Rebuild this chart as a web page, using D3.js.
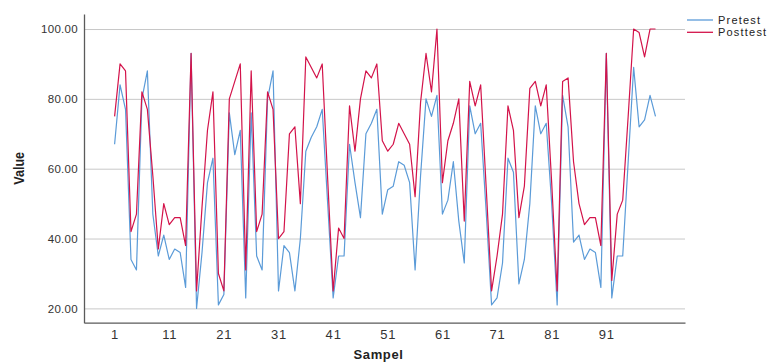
<!DOCTYPE html>
<html>
<head>
<meta charset="utf-8">
<script src="https://cdn.jsdelivr.net/npm/d3@7"></script>
<style>
  body { margin: 0; background: #fff; }
  svg { display: block; }
</style>
</head>
<body>
<svg id="chart" width="771" height="363"></svg>
<script>
// sample index 1..100
const samples = d3.range(1, 101);

const pretest = [
  67, 84, 77, 34, 31, 80, 88, 47, 35, 41,
  34, 37, 36, 26, 93, 20, 36, 56, 63, 21,
  24, 76, 64, 71, 23, 76, 35, 31, 80, 88,
  25, 38, 36, 25, 40, 65, 69, 72, 77, 50,
  23, 35, 35, 67, 56, 46, 70, 73, 77, 47,
  54, 55, 62, 61, 56, 31, 58, 80, 75, 81,
  47, 51, 62, 45, 33, 78, 70, 73, 48, 21,
  23, 33, 63, 59, 27, 34, 50, 78, 70, 73,
  50, 21, 81, 72, 39, 41, 34, 37, 36, 26,
  93, 23, 35, 35, 62, 89, 72, 74, 81, 75
];

const posttest = [
  75, 90, 88, 42, 47, 82, 77, 58, 37, 50,
  44, 46, 46, 38, 93, 25, 49, 71, 82, 30,
  25, 80, 85, 90, 31, 88, 42, 47, 82, 77,
  40, 42, 70, 72, 50, 92, 89, 86, 90, 57,
  25, 43, 40, 78, 65, 80, 88, 86, 90, 68,
  65, 67, 73, 70, 67, 52, 79, 93, 82, 100,
  56, 68, 73, 80, 45, 85, 78, 84, 55, 25,
  35, 47, 78, 71, 46, 55, 83, 85, 78, 84,
  56, 25, 85, 86, 62, 50, 44, 46, 46, 38,
  93, 28, 47, 51, 75, 100, 99, 92, 100, 100
];

const xTicks = [1, 11, 21, 31, 41, 51, 61, 71, 81, 91];
const yTicks = [20, 40, 60, 80, 100];

const seriesNames = ['Pretest', 'Posttest'];
const seriesColors = ['#5b9bd8', '#d3134a'];

const svg = d3.select('#chart');
const plotLeft = 84, plotRight = 685, plotTop = 14, plotBottom = 322.7;

const x = d3.scaleLinear().domain([-4.6, 105.4]).range([plotLeft, plotRight]);
const y = d3.scaleLinear().domain([15.9, 104.3]).range([plotBottom, plotTop]);

// grid
svg.append('g')
  .attr('transform', `translate(${plotLeft},0)`)
  .call(d3.axisLeft(y).tickValues(yTicks).tickSize(-(plotRight - plotLeft)).tickFormat(''))
  .call(g => g.select('.domain').remove())
  .call(g => g.selectAll('line').attr('stroke', '#c8c8c8').attr('stroke-width', 1));

// y axis
svg.append('g')
  .attr('transform', `translate(${plotLeft},0)`)
  .call(d3.axisLeft(y).tickValues(yTicks).tickSize(0).tickSizeOuter(0).tickPadding(6).tickFormat(d3.format('.2f')))
  .call(g => g.select('.domain').attr('stroke', '#5a5a5a').attr('stroke-width', 1.3))
  .call(g => g.selectAll('text')
    .attr('fill', '#333')
    .style('font-family', '"Liberation Sans", Arial, sans-serif')
    .style('font-size', '11.5px')
    .style('letter-spacing', '0.3px'));

// x axis
svg.append('g')
  .attr('transform', `translate(0,${plotBottom})`)
  .call(d3.axisBottom(x).tickValues(xTicks).tickSize(0).tickSizeOuter(0).tickPadding(7))
  .call(g => g.select('.domain').attr('stroke', '#5a5a5a').attr('stroke-width', 1.3))
  .call(g => g.selectAll('text')
    .attr('fill', '#333')
    .style('font-family', '"Liberation Sans", Arial, sans-serif')
    .style('font-size', '13px')
    .style('letter-spacing', '0.8px'));

// lines
const line = d3.line()
  .x((d, i) => x(samples[i]))
  .y(d => y(d));

[pretest, posttest].forEach((vals, k) => {
  svg.append('path')
    .datum(vals)
    .attr('fill', 'none')
    .attr('stroke', seriesColors[k])
    .attr('stroke-width', 1.2)
    .attr('stroke-linejoin', 'round')
    .attr('d', line);
});

// axis titles
svg.append('text')
  .attr('transform', `translate(24,${(plotTop + plotBottom) / 2}) rotate(-90) scale(0.84,1)`)
  .attr('text-anchor', 'middle')
  .style('font-family', '"Liberation Sans", Arial, sans-serif')
  .style('font-weight', 'bold')
  .style('font-size', '15px')
  .attr('fill', '#222')
  .text('Value');

svg.append('text')
  .attr('x', 378.5)
  .attr('y', 359)
  .attr('text-anchor', 'middle')
  .style('font-family', '"Liberation Sans", Arial, sans-serif')
  .style('font-weight', 'bold')
  .style('font-size', '13px')
  .style('letter-spacing', '0.6px')
  .attr('fill', '#222')
  .text('Sampel');

// legend
const legend = svg.append('g').attr('transform', 'translate(687,20)');
seriesNames.forEach((name, k) => {
  const g = legend.append('g').attr('transform', `translate(0,${k * 12.3})`);
  g.append('line')
    .attr('x1', 0).attr('x2', 26)
    .attr('stroke', seriesColors[k])
    .attr('stroke-width', 1.3);
  g.append('text')
    .attr('x', 31)
    .attr('dy', '0.35em')
    .style('font-family', '"Liberation Sans", Arial, sans-serif')
    .style('font-size', '11px')
    .style('letter-spacing', '1.2px')
    .attr('fill', '#222')
    .text(name);
});
</script>
</body>
</html>
